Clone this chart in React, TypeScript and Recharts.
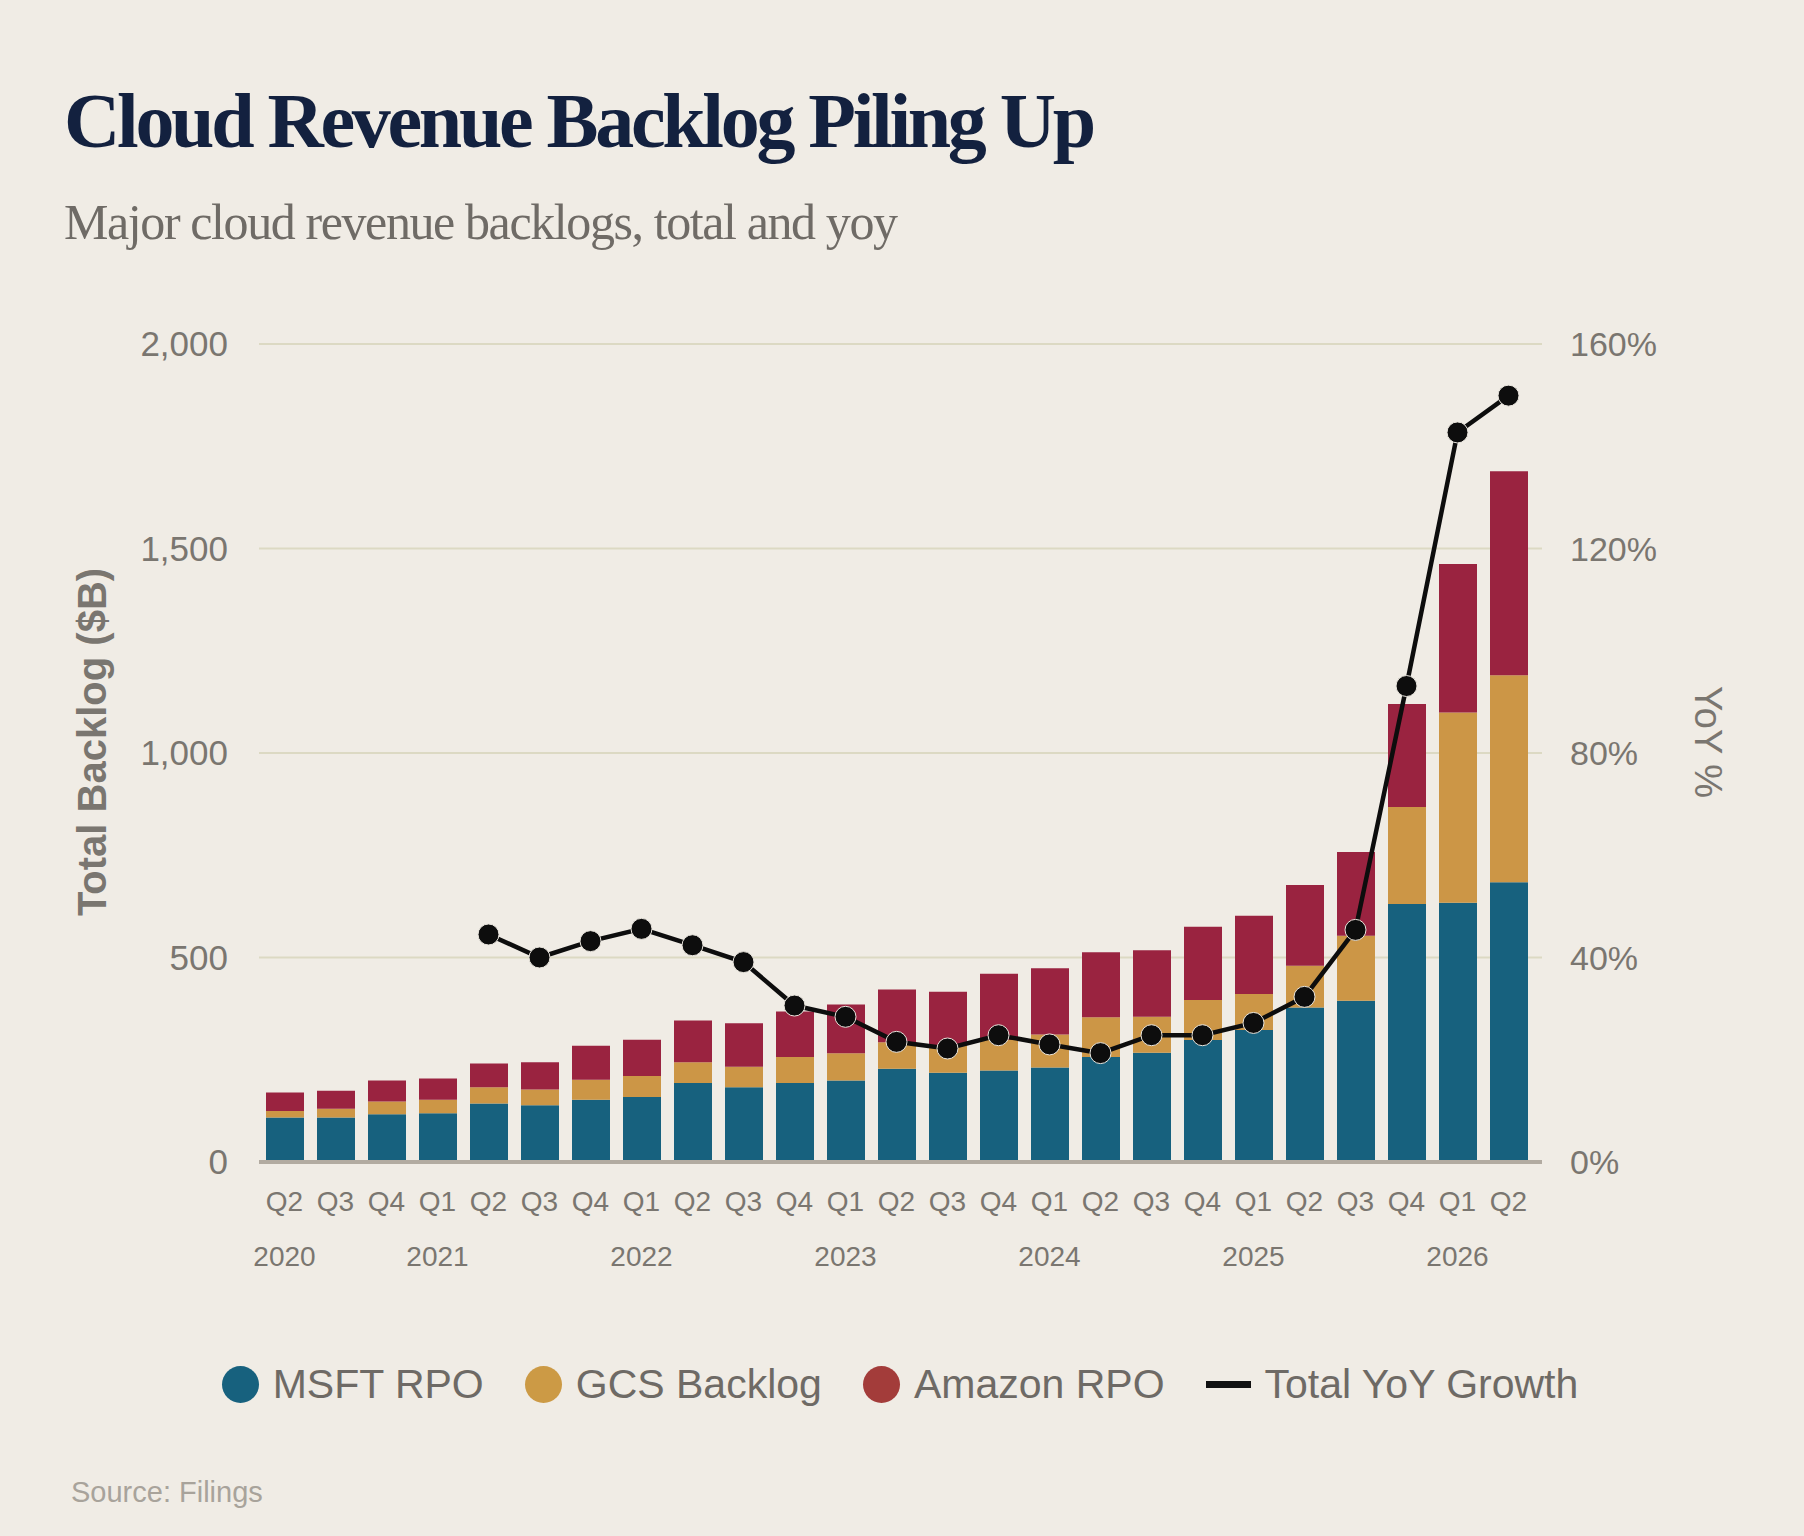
import React from "react";
import {
  ComposedChart,
  Bar,
  Line,
  XAxis,
  YAxis,
  CartesianGrid,
} from "recharts";

const quarters = [
  "Q2", "Q3", "Q4", "Q1", "Q2", "Q3", "Q4", "Q1", "Q2", "Q3", "Q4", "Q1", "Q2",
  "Q3", "Q4", "Q1", "Q2", "Q3", "Q4", "Q1", "Q2", "Q3", "Q4", "Q1", "Q2",
];
const years = [
  "2020", "", "", "2021", "", "", "", "2022", "", "", "", "2023", "",
  "", "", "2024", "", "", "", "2025", "", "", "", "2026", "",
];
const msftRpo = [109, 109, 117, 119, 143, 139, 152, 159, 193, 183, 193, 199, 228, 218, 224, 231, 257, 267, 298, 323, 378, 394, 631, 634, 684];
const gcsBacklog = [16, 21, 31, 33, 40, 38, 49, 51, 51, 50, 64, 67, 65, 66, 74, 81, 97, 88, 98, 88, 102, 159, 237, 465, 506];
const amazonRpo = [45, 44, 51, 52, 58, 67, 83, 89, 102, 106, 111, 119, 129, 132, 162, 162, 159, 163, 179, 191, 197, 205, 252, 363, 499];
const yoyGrowth = [null, null, null, null, 44.5, 40.0, 43.2, 45.6, 42.4, 39.1, 30.6, 28.4, 23.5, 22.2, 24.8, 23.0, 21.3, 24.8, 24.8, 27.2, 32.3, 45.4, 93.1, 142.7, 149.9];

const leftTicks = [0, 500, 1000, 1500, 2000];
const rightTicks = [0, 40, 80, 120, 160];

const BG = "#f0ece5";
const AXIS_TEXT = "#7a7670";
const SANS = "'Liberation Sans', Arial, sans-serif";
const SERIF = "'Liberation Serif', 'Times New Roman', serif";

const legendItems = [
  { name: "MSFT RPO", color: "#17617e", type: "dot" },
  { name: "GCS Backlog", color: "#cc9a45", type: "dot" },
  { name: "Amazon RPO", color: "#a33c3a", type: "dot" },
  { name: "Total YoY Growth", color: "#111111", type: "line" },
];

const data = quarters.map((q, i) => ({
  quarter: q,
  year: years[i],
  msft: msftRpo[i],
  gcs: gcsBacklog[i],
  amazon: amazonRpo[i],
  yoy: yoyGrowth[i],
}));

function QuarterTick(props: any) {
  const { x, y, payload, index } = props;
  const yr = years[index];
  return (
    <g>
      <text x={x} y={y + 37} dy="0.355em" textAnchor="middle" fill={AXIS_TEXT} fontSize={28} fontFamily={SANS}>
        {payload.value}
      </text>
      {yr ? (
        <text x={x} y={y + 92} dy="0.355em" textAnchor="middle" fill={AXIS_TEXT} fontSize={28} fontFamily={SANS}>
          {yr}
        </text>
      ) : null}
    </g>
  );
}

export default function App() {
  return (
    <div style={{ position: "relative", width: 1804, height: 1536, background: BG, overflow: "hidden" }}>
      <style>{`body{margin:0;background:${BG};}`}</style>
      <div
        style={{
          position: "absolute",
          left: 64,
          top: 82,
          fontFamily: SERIF,
          fontWeight: 700,
          fontSize: 78,
          lineHeight: 1,
          letterSpacing: -3.3,
          color: "#13213f",
          whiteSpace: "nowrap",
        }}
      >
        Cloud Revenue Backlog Piling Up
      </div>
      <div
        style={{
          position: "absolute",
          left: 64,
          top: 197,
          fontFamily: SERIF,
          fontSize: 50,
          lineHeight: 1,
          letterSpacing: -1.4,
          color: "#6f6b66",
          whiteSpace: "nowrap",
        }}
      >
        Major cloud revenue backlogs, total and yoy
      </div>

      <div style={{ position: "absolute", left: 0, top: 0 }}>
        <ComposedChart
          width={1804}
          height={1300}
          data={data}
          margin={{ top: 344, right: 0, bottom: 0, left: 0 }}
        >
          <CartesianGrid yAxisId="left" vertical={false} stroke="#dcd9c3" strokeWidth={2} />
          <XAxis
            dataKey="quarter"
            interval={0}
            height={138}
            tickLine={false}
            tickSize={0}
            axisLine={{ stroke: "#b2aba1", strokeWidth: 4 }}
            tick={<QuarterTick />}
            padding={{ left: 0, right: 8 }}
          />
          <YAxis
            yAxisId="left"
            width={259}
            domain={[0, 2000]}
            ticks={leftTicks}
            tickFormatter={(v: number) => v.toLocaleString("en-US")}
            axisLine={false}
            tickLine={false}
            tickSize={0}
            tickMargin={31}
            tick={{ fill: AXIS_TEXT, fontSize: 35, fontFamily: SANS }}
            label={{
              content: (p: any) => {
                const cx = p.viewBox.x + 92;
                const cy = p.viewBox.y + p.viewBox.height / 2 - 11;
                return (
                  <text
                    x={cx}
                    y={cy}
                    transform={`rotate(-90 ${cx} ${cy})`}
                    textAnchor="middle"
                    dominantBaseline="central"
                    fill={AXIS_TEXT}
                    fontSize={40}
                    fontWeight={700}
                    fontFamily={SANS}
                  >
                    Total Backlog ($B)
                  </text>
                );
              },
            }}
          />
          <YAxis
            yAxisId="right"
            orientation="right"
            width={262}
            domain={[0, 160]}
            ticks={rightTicks}
            tickFormatter={(v: number) => `${v}%`}
            axisLine={false}
            tickLine={false}
            tickSize={0}
            tickMargin={28}
            tick={{ fill: AXIS_TEXT, fontSize: 34, fontFamily: SANS }}
            label={{
              content: (p: any) => {
                const cx = p.viewBox.x + 166;
                const cy = p.viewBox.y + p.viewBox.height / 2 - 11;
                return (
                  <text
                    x={cx}
                    y={cy}
                    transform={`rotate(90 ${cx} ${cy})`}
                    textAnchor="middle"
                    dominantBaseline="central"
                    fill={AXIS_TEXT}
                    fontSize={38}
                    fontFamily={SANS}
                  >
                    YoY %
                  </text>
                );
              },
            }}
          />
          <Bar yAxisId="left" dataKey="msft" stackId="a" fill="#17617e" barSize={38} isAnimationActive={false} />
          <Bar yAxisId="left" dataKey="gcs" stackId="a" fill="#cc9646" barSize={38} isAnimationActive={false} />
          <Bar yAxisId="left" dataKey="amazon" stackId="a" fill="#9a2340" barSize={38} isAnimationActive={false} />
          <Line
            yAxisId="right"
            dataKey="yoy"
            stroke="#0d0d0d"
            strokeWidth={4.5}
            dot={{ r: 10.5, fill: "#0d0d0d", stroke: "#e8e4dc", strokeWidth: 1 }}
            activeDot={false}
            isAnimationActive={false}
          />
        </ComposedChart>
      </div>

      <div
        style={{
          position: "absolute",
          left: 0,
          width: 1800,
          top: 1364,
          display: "flex",
          justifyContent: "center",
          alignItems: "center",
          gap: 41,
          fontFamily: SANS,
          fontSize: 41,
          color: "#6e6a65",
        }}
      >
        {legendItems.map((it) => (
          <div key={it.name} style={{ display: "flex", alignItems: "center", gap: 14 }}>
            {it.type === "dot" ? (
              <span style={{ width: 37, height: 37, borderRadius: "50%", background: it.color, display: "inline-block" }} />
            ) : (
              <span style={{ width: 45, height: 7, background: it.color, display: "inline-block" }} />
            )}
            <span style={{ lineHeight: 1 }}>{it.name}</span>
          </div>
        ))}
      </div>

      <div
        style={{
          position: "absolute",
          left: 71,
          top: 1478,
          fontFamily: SANS,
          fontSize: 29,
          lineHeight: 1,
          color: "#a8a39b",
        }}
      >
        Source: Filings
      </div>
    </div>
  );
}
